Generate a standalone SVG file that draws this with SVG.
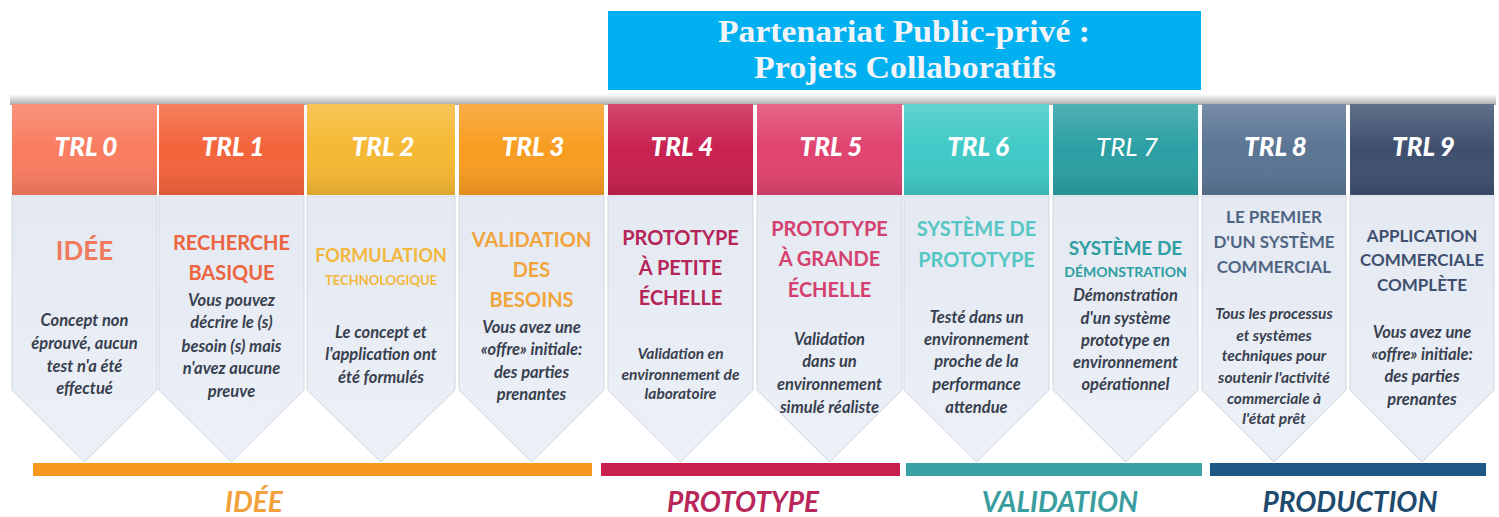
<svg xmlns="http://www.w3.org/2000/svg" width="1499" height="517" viewBox="0 0 1499 517">
<defs>
<linearGradient id="shade" x1="0" y1="0" x2="0" y2="1">
<stop offset="0" stop-color="#9a9a9a" stop-opacity="0"/>
<stop offset="1" stop-color="#8a8a8a" stop-opacity="0.75"/>
</linearGradient>
<linearGradient id="gloss" x1="0" y1="0" x2="0" y2="1">
<stop offset="0" stop-color="#ffffff" stop-opacity="0.18"/>
<stop offset="0.5" stop-color="#ffffff" stop-opacity="0"/>
<stop offset="1" stop-color="#000000" stop-opacity="0.10"/>
</linearGradient>
<linearGradient id="bodyg" x1="0" y1="0" x2="0" y2="1">
<stop offset="0" stop-color="#e4e9f2"/>
<stop offset="1" stop-color="#ecf0f7"/>
</linearGradient>
</defs>
<style>
text{font-family:Lato,"Open Sans","Liberation Sans",sans-serif;font-weight:bold;font-style:italic;text-anchor:middle}
.trl{fill:#ffffff;font-size:26px;font-weight:900}
.desc{fill:#38404f;font-size:16.5px}
.d14{fill:#38404f;font-size:15.5px}
.sub{font-style:normal;font-size:20px}
.body{fill:url(#bodyg);stroke:#cfd5df;stroke-width:1}
.banner{font-family:"Liberation Serif","DejaVu Serif",serif;font-style:normal;font-size:31px;fill:#f2f4f8}
.phase{font-size:28px}
</style>
<rect x="0" y="0" width="1499" height="517" fill="#ffffff"/>
<g id="banner">
<rect x="608" y="11" width="593" height="79" fill="#00b0f0"/>
<text class="banner" x="904" y="42" textLength="372" lengthAdjust="spacingAndGlyphs">Partenariat Public-privé :</text>
<text class="banner" x="905" y="78" textLength="302" lengthAdjust="spacingAndGlyphs">Projets Collaboratifs</text>
</g>
<rect x="10" y="94" width="1486" height="11" fill="url(#shade)"/>
<g id="trl0">
<path class="body" d="M12 196H157V390L84.5 462L12 390Z"/>
<rect x="12" y="104" width="145" height="91" fill="#f97c60"/>
<rect x="12" y="104" width="145" height="91" fill="url(#gloss)"/>
<text class="trl" x="86" y="156">TRL 0</text>
<text class="sub" x="84.5" y="260" style="fill:#f07a5e;font-size:26px">IDÉE</text>
<text class="desc" x="84.5" y="326">Concept non</text>
<text class="desc" x="84.5" y="349">éprouvé, aucun</text>
<text class="desc" x="84.5" y="372">test n'a été</text>
<text class="desc" x="84.5" y="394">effectué</text>
</g>
<g id="trl1">
<path class="body" d="M159 196H304V390L231.5 462L159 390Z"/>
<rect x="159" y="104" width="145" height="91" fill="#f4633a"/>
<rect x="159" y="104" width="145" height="91" fill="url(#gloss)"/>
<text class="trl" x="233" y="156">TRL 1</text>
<text class="sub" x="231.5" y="250" style="fill:#ec6440">RECHERCHE</text>
<text class="sub" x="231.5" y="280" style="fill:#ec6440">BASIQUE</text>
<text class="desc" x="231.5" y="306">Vous pouvez</text>
<text class="desc" x="231.5" y="328">décrire le (s)</text>
<text class="desc" x="231.5" y="352">besoin (s) mais</text>
<text class="desc" x="231.5" y="374">n'avez aucune</text>
<text class="desc" x="231.5" y="397">preuve</text>
</g>
<g id="trl2">
<path class="body" d="M307 196H455V390L381 462L307 390Z"/>
<rect x="307" y="104" width="148" height="91" fill="#f5b833"/>
<rect x="307" y="104" width="148" height="91" fill="url(#gloss)"/>
<text class="trl" x="383" y="156">TRL 2</text>
<text class="sub" x="381" y="262" style="fill:#f3b73c;font-size:18px">FORMULATION</text>
<text class="sub" x="381" y="285" style="fill:#f3b73c;font-size:13px">TECHNOLOGIQUE</text>
<text class="desc" x="381" y="338">Le concept et</text>
<text class="desc" x="381" y="360">l'application ont</text>
<text class="desc" x="381" y="383">été formulés</text>
</g>
<g id="trl3">
<path class="body" d="M459 196H604V390L531.5 462L459 390Z"/>
<rect x="459" y="104" width="145" height="91" fill="#f89c20"/>
<rect x="459" y="104" width="145" height="91" fill="url(#gloss)"/>
<text class="trl" x="533" y="156">TRL 3</text>
<text class="sub" x="531.5" y="247" style="fill:#f2a43c">VALIDATION</text>
<text class="sub" x="531.5" y="277" style="fill:#f2a43c">DES</text>
<text class="sub" x="531.5" y="307" style="fill:#f2a43c">BESOINS</text>
<text class="desc" x="531.5" y="333">Vous  avez une</text>
<text class="desc" x="531.5" y="355">«offre» initiale:</text>
<text class="desc" x="531.5" y="378">des parties</text>
<text class="desc" x="531.5" y="400">prenantes</text>
</g>
<g id="trl4">
<path class="body" d="M608 196H753V390L680.5 462L608 390Z"/>
<rect x="608" y="104" width="145" height="91" fill="#c8204f"/>
<rect x="608" y="104" width="145" height="91" fill="url(#gloss)"/>
<text class="trl" x="682" y="156">TRL 4</text>
<text class="sub" x="680.5" y="245" style="fill:#b52558">PROTOTYPE</text>
<text class="sub" x="680.5" y="275" style="fill:#b52558">À PETITE</text>
<text class="sub" x="680.5" y="305" style="fill:#b52558">ÉCHELLE</text>
<text class="d14" x="680.5" y="359">Validation en</text>
<text class="d14" x="680.5" y="380">environnement de</text>
<text class="d14" x="680.5" y="399">laboratoire</text>
</g>
<g id="trl5">
<path class="body" d="M757 196H902V390L829.5 462L757 390Z"/>
<rect x="757" y="104" width="145" height="91" fill="#e0436f"/>
<rect x="757" y="104" width="145" height="91" fill="url(#gloss)"/>
<text class="trl" x="831" y="156">TRL 5</text>
<text class="sub" x="829.5" y="236" style="fill:#d4416e">PROTOTYPE</text>
<text class="sub" x="829.5" y="266" style="fill:#d4416e">À GRANDE</text>
<text class="sub" x="829.5" y="297" style="fill:#d4416e">ÉCHELLE</text>
<text class="desc" x="829.5" y="345">Validation</text>
<text class="desc" x="829.5" y="367">dans un</text>
<text class="desc" x="829.5" y="390">environnement</text>
<text class="desc" x="829.5" y="413">simulé réaliste</text>
</g>
<g id="trl6">
<path class="body" d="M904 196H1049V390L976.5 462L904 390Z"/>
<rect x="904" y="104" width="145" height="91" fill="#3fc9c6"/>
<rect x="904" y="104" width="145" height="91" fill="url(#gloss)"/>
<text class="trl" x="978" y="156">TRL 6</text>
<text class="sub" x="976.5" y="236" style="fill:#56c6c4">SYSTÈME DE</text>
<text class="sub" x="976.5" y="267" style="fill:#56c6c4">PROTOTYPE</text>
<text class="desc" x="976.5" y="323">Testé dans un</text>
<text class="desc" x="976.5" y="345">environnement</text>
<text class="desc" x="976.5" y="367">proche de la</text>
<text class="desc" x="976.5" y="390">performance</text>
<text class="desc" x="976.5" y="413">attendue</text>
</g>
<g id="trl7">
<path class="body" d="M1053 196H1198V390L1125.5 462L1053 390Z"/>
<rect x="1053" y="104" width="145" height="91" fill="#2a9fa3"/>
<rect x="1053" y="104" width="145" height="91" fill="url(#gloss)"/>
<text class="trl" x="1127" y="156" style="font-weight:normal">TRL 7</text>
<text class="sub" x="1125.5" y="255" style="fill:#2e9ea2;font-size:19px">SYSTÈME DE</text>
<text class="sub" x="1125.5" y="277" style="fill:#2e9ea2;font-size:14px">DÉMONSTRATION</text>
<text class="desc" x="1125.5" y="301">Démonstration</text>
<text class="desc" x="1125.5" y="324">d'un système</text>
<text class="desc" x="1125.5" y="346">prototype en</text>
<text class="desc" x="1125.5" y="368">environnement</text>
<text class="desc" x="1125.5" y="390">opérationnel</text>
</g>
<g id="trl8">
<path class="body" d="M1202 196H1346V390L1274 462L1202 390Z"/>
<rect x="1202" y="104" width="144" height="91" fill="#5a7493"/>
<rect x="1202" y="104" width="144" height="91" fill="url(#gloss)"/>
<text class="trl" x="1275.5" y="156">TRL 8</text>
<text class="sub" x="1274" y="223" style="fill:#4f6482;font-size:17px">LE PREMIER</text>
<text class="sub" x="1274" y="248" style="fill:#4f6482;font-size:17px">D'UN SYSTÈME</text>
<text class="sub" x="1274" y="273" style="fill:#4f6482;font-size:17px">COMMERCIAL</text>
<text class="d14" x="1274" y="319">Tous les processus</text>
<text class="d14" x="1274" y="341">et systèmes</text>
<text class="d14" x="1274" y="361">techniques pour</text>
<text class="d14" x="1274" y="383">soutenir l'activité</text>
<text class="d14" x="1274" y="404">commerciale à</text>
<text class="d14" x="1274" y="424">l'état prêt</text>
</g>
<g id="trl9">
<path class="body" d="M1350 196H1494V390L1422 462L1350 390Z"/>
<rect x="1350" y="104" width="144" height="91" fill="#3e4f6e"/>
<rect x="1350" y="104" width="144" height="91" fill="url(#gloss)"/>
<text class="trl" x="1423.5" y="156">TRL 9</text>
<text class="sub" x="1422" y="242" style="fill:#3e4f6e;font-size:17px">APPLICATION</text>
<text class="sub" x="1422" y="266" style="fill:#3e4f6e;font-size:17px">COMMERCIALE</text>
<text class="sub" x="1422" y="291" style="fill:#3e4f6e;font-size:17px">COMPLÈTE</text>
<text class="desc" x="1422" y="338">Vous  avez une</text>
<text class="desc" x="1422" y="360">«offre» initiale:</text>
<text class="desc" x="1422" y="382">des parties</text>
<text class="desc" x="1422" y="405">prenantes</text>
</g>
<g id="phases">
<rect x="33" y="463" width="559" height="13" fill="#f7991f"/>
<rect x="601" y="463" width="299" height="13" fill="#c8214f"/>
<rect x="906" y="463" width="296" height="13" fill="#3aa2a5"/>
<rect x="1210" y="463" width="276" height="13" fill="#1e5784"/>
<text class="phase" x="254" y="512" fill="#f2a13a">IDÉE</text>
<text class="phase" x="743" y="512" fill="#b8265a">PROTOTYPE</text>
<text class="phase" x="1060" y="512" fill="#3a9ea0">VALIDATION</text>
<text class="phase" x="1350" y="512" fill="#1e4a6e">PRODUCTION</text>
</g>
</svg>
